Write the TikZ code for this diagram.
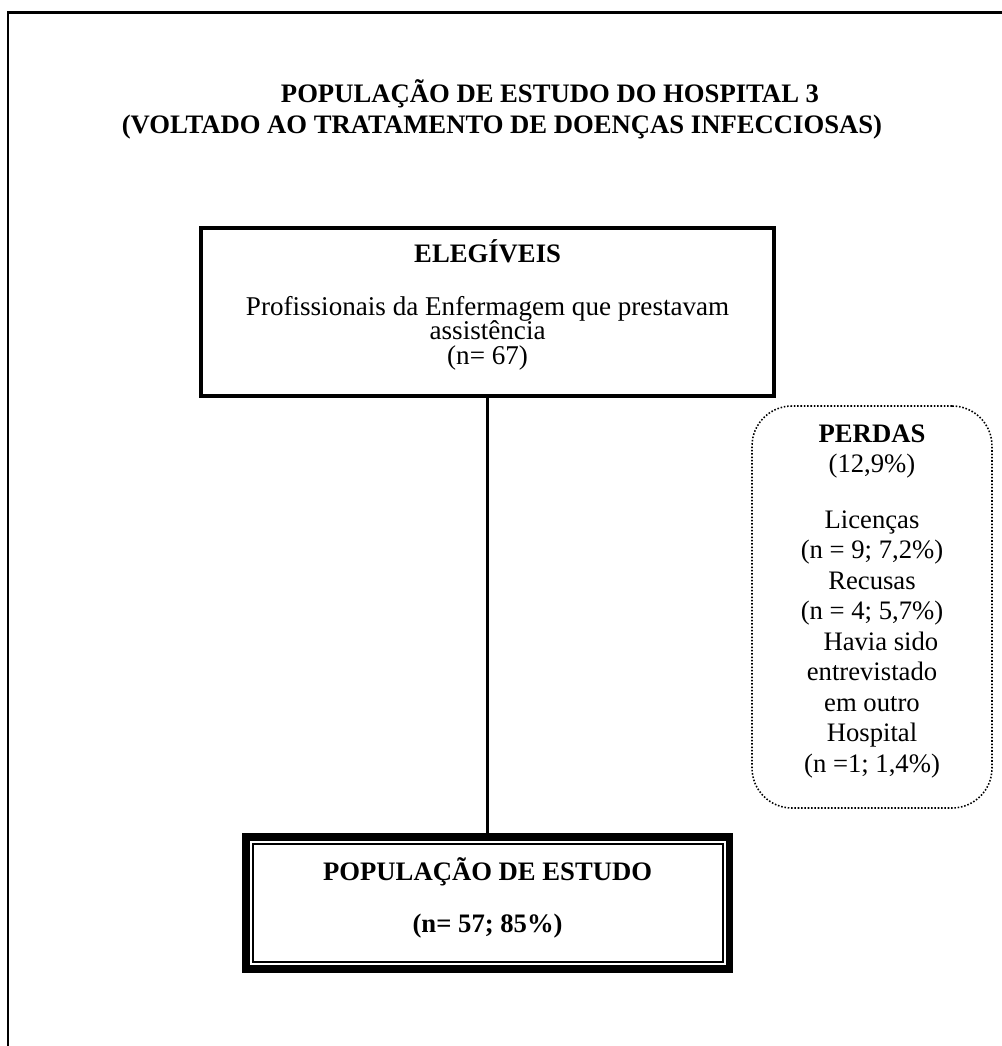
\documentclass[tikz,border=0pt]{standalone}
\usepackage{fontspec}
\setmainfont{Liberation Serif}
\lineskiplimit=-\maxdimen

\begin{document}
\begin{tikzpicture}[x=0.45pt, y=-0.45pt,
    titulo/.style={inner sep=0pt, font=\bfseries\fontsize{12}{14}\selectfont},
    caixa/.style={rectangle, draw, line width=1.8pt, outer sep=0pt, inner sep=0pt,
                  minimum width=257.6pt, minimum height=75.8pt, align=center,
                  font=\fontsize{12.2}{11}\selectfont, text height=46.6pt, text depth=0pt},
    perdabox/.style={rectangle, draw, line width=0.7pt, dash pattern=on 0.7pt off 0.8pt,
                  rounded corners=18pt, outer sep=0pt, inner sep=0pt,
                  minimum width=108pt, minimum height=180.9pt, align=center,
                  font=\fontsize{12}{13.7}\selectfont, text height=148.5pt, text depth=0pt},
    popbox/.style={rectangle, draw, line width=3.375pt, outer sep=0pt, inner sep=0pt,
                  minimum width=217.6pt, minimum height=59.6pt, align=center,
                  font=\bfseries\fontsize{12}{13.8}\selectfont, text height=26.1pt, text depth=0pt},
    ligacao/.style={line width=1pt}
  ]
  \useasboundingbox (0,0) rectangle (1002,1046);
  % moldura
  \draw[line width=1pt] (1002,12.5) -- (8,12.5) -- (8,1046);

  \node[titulo, anchor=base] (titulo1) at (550,102) {POPULAÇÃO DE ESTUDO DO HOSPITAL 3};
  \node[titulo, anchor=base] (titulo2) at (502,133) {(VOLTADO AO TRATAMENTO DE DOENÇAS INFECCIOSAS)};

  \node[caixa] (elegiveis) at (487.6,312.25)
    {{\fontsize{12}{11}\selectfont\textbf{ELEGÍVEIS}}\\[12.6pt]
     Profissionais da Enfermagem que prestavam\\
     assistência\\
     (n= 67)};

  \node[perdabox] (perdas) at (872,607)
    {\textbf{PERDAS}\\
     (12,9\%)\\[11.5pt]
     Licenças\\
     (n = 9; 7,2\%)\\
     Recusas\\
     (n = 4; 5,7\%)\\
     \hspace*{8pt}Havia sido\\
     entrevistado\\
     em outro\\
     Hospital\\
     (n =1; 1,4\%)};

  \node[popbox] (populacao) at (487.6,903)
    {POPULAÇÃO DE ESTUDO\\[9.6pt]
     (n= 57; 85\%)};
  \draw[line width=0.9pt] ([xshift=3.04pt,yshift=3.04pt]populacao.south west)
    rectangle ([xshift=-3.04pt,yshift=-3.04pt]populacao.north east);

  \draw[ligacao] (elegiveis.south) -- (populacao.north);
\end{tikzpicture}
\end{document}
